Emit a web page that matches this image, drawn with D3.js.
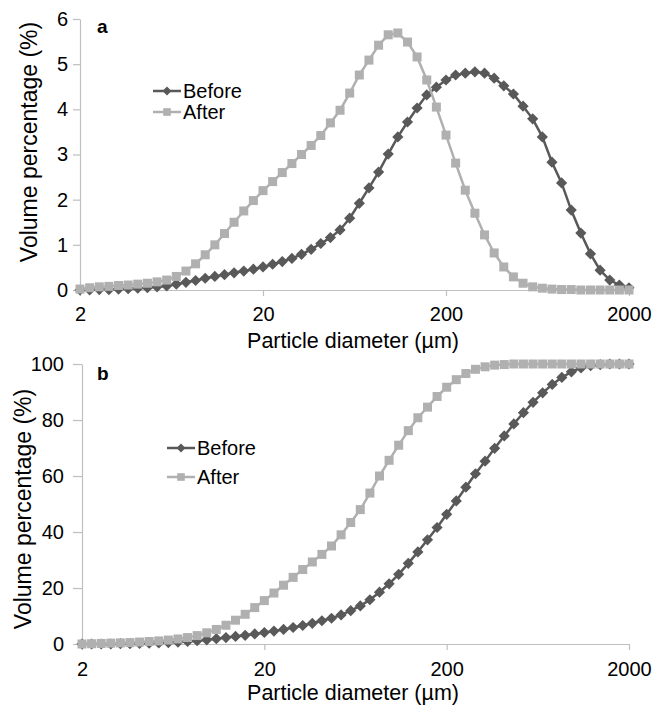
<!DOCTYPE html>
<html><head><meta charset="utf-8">
<script src="https://cdn.jsdelivr.net/npm/d3@7"></script>
<style>
body{margin:0;background:#fff}
text{font-family:"Liberation Sans",Arial,Helvetica,sans-serif;fill:#000}
</style>
</head><body>
<svg id="chart" width="662" height="706"></svg>
<script>
// ---- data ----
const diameters = [2, 2.258, 2.549, 2.877, 3.248, 3.666, 4.138, 4.671, 5.273, 5.953,
  6.720, 7.585, 8.563, 9.666, 10.91, 12.32, 13.90, 15.70, 17.72,
  20, 22.58, 25.49, 28.77, 32.48, 36.66, 41.38, 46.71, 52.73, 59.53,
  67.20, 75.85, 85.63, 96.66, 109.1, 123.2, 139.0, 157.0, 177.2,
  200, 225.8, 254.9, 287.7, 324.8, 366.6, 413.8, 467.1, 527.3, 595.3,
  672.0, 758.5, 856.3, 966.6, 1091, 1232, 1390, 1570, 1772, 2000];

const beforeFreq = [0.00, 0.00, 0.01, 0.01, 0.02, 0.03, 0.04, 0.05, 0.07, 0.09,
  0.13, 0.17, 0.21, 0.26, 0.30, 0.34, 0.38, 0.42, 0.46, 0.51,
  0.57, 0.63, 0.70, 0.79, 0.90, 1.03, 1.16, 1.33, 1.59, 1.92,
  2.26, 2.61, 3.01, 3.39, 3.72, 4.03, 4.32, 4.49, 4.65, 4.76,
  4.80, 4.83, 4.80, 4.69, 4.52, 4.34, 4.07, 3.79, 3.39, 2.83,
  2.37, 1.77, 1.26, 0.80, 0.44, 0.22, 0.11, 0.05];

const afterFreq = [0.02, 0.05, 0.07, 0.08, 0.10, 0.11, 0.13, 0.15, 0.18, 0.22,
  0.30, 0.42, 0.58, 0.78, 1.00, 1.25, 1.50, 1.75, 1.98, 2.20,
  2.40, 2.60, 2.80, 3.00, 3.20, 3.42, 3.70, 3.98, 4.36, 4.76,
  5.09, 5.42, 5.65, 5.69, 5.49, 5.16, 4.65, 4.05, 3.43, 2.81,
  2.21, 1.70, 1.22, 0.82, 0.51, 0.29, 0.15, 0.07, 0.04, 0.02,
  0.01, 0.01, 0.00, 0.00, 0.00, 0.00, 0.00, 0.00];

const beforeCum = [0.0, 0.0, 0.0, 0.0, 0.1, 0.1, 0.2, 0.3, 0.4, 0.5,
  0.7, 0.9, 1.2, 1.5, 1.9, 2.3, 2.7, 3.1, 3.6, 4.1,
  4.6, 5.2, 5.9, 6.6, 7.4, 8.3, 9.2, 10.4, 11.9, 13.6,
  15.8, 18.5, 21.5, 24.9, 28.8, 32.9, 37.2, 41.6, 46.3, 51.1,
  56.0, 60.8, 65.3, 69.9, 74.3, 78.6, 82.6, 86.3, 89.7, 92.7,
  95.2, 97.2, 98.6, 99.4, 99.8, 100, 100, 100];

const afterCum = [0.0, 0.1, 0.2, 0.3, 0.4, 0.5, 0.7, 0.9, 1.1, 1.4,
  1.8, 2.3, 3.0, 4.0, 5.2, 6.7, 8.5, 10.6, 13.0, 15.5,
  18.2, 21.0, 23.8, 26.6, 29.3, 32.0, 35.0, 39.0, 43.4, 48.0,
  53.9, 60.0, 65.6, 71.0, 76.2, 80.8, 84.6, 88.4, 91.7, 94.4,
  96.6, 98.1, 99.0, 99.6, 99.8, 100, 100, 100, 100, 100,
  100, 100, 100, 100, 100, 100, 100, 100];

const seriesNames = ["Before", "After"];
const xTickValues = [2, 20, 200, 2000];
const yTicksA = [0, 1, 2, 3, 4, 5, 6];
const yTicksB = [0, 20, 40, 60, 80, 100];
const xTitle = "Particle diameter (µm)";
const yTitle = "Volume percentage (%)";

// ---- styles ----
const colBefore = "#595959", colAfter = "#b0b0b0", axisCol = "#bfbfbf";
const svg = d3.select("#chart");

function diamond(r){ return `M0,${-r}L${r},0L0,${r}L${-r},0Z`; }

function drawPanel(o) {
  const g = svg.append("g");
  const x = d3.scaleLog().domain([2, 2000]).range(o.xr);
  const y = d3.scaleLinear().domain(o.yd).range(o.yr);

  const ya = g.append("g").attr("transform", `translate(${o.xr[0]},0)`)
    .call(d3.axisLeft(y).tickValues(o.yTicks).tickFormat(d3.format("d"))
      .tickSize(o.yTickSize).tickPadding(o.yTickPad).tickSizeOuter(0));
  const xa = g.append("g").attr("transform", `translate(0,${o.yr[0]})`)
    .call(d3.axisBottom(x).tickValues(xTickValues).tickFormat(d3.format("d"))
      .tickSize(6).tickPadding(o.xTickPad).tickSizeOuter(0));
  [ya, xa].forEach(a => {
    a.select(".domain").attr("stroke", axisCol).attr("stroke-width", 1.2);
    a.selectAll(".tick line").attr("stroke", axisCol).attr("stroke-width", 1.2);
    a.selectAll(".tick text").attr("font-size", 20).attr("fill", "#000")
      .attr("font-family", '"Liberation Sans",Arial,sans-serif');
  });

  const line = d3.line().x((d, i) => x(diameters[i])).y(d => y(d));

  g.append("path").datum(o.before).attr("d", line).attr("fill", "none")
    .attr("stroke", colBefore).attr("stroke-width", 2.5);
  g.append("g").selectAll("path").data(o.before).join("path")
    .attr("transform", (d, i) => `translate(${x(diameters[i])},${y(d)})`)
    .attr("d", diamond(5.6)).attr("fill", colBefore);
  g.append("path").datum(o.after).attr("d", line).attr("fill", "none")
    .attr("stroke", colAfter).attr("stroke-width", 2.5);
  g.append("g").selectAll("rect").data(o.after).join("rect")
    .attr("x", (d, i) => x(diameters[i]) - 4.5).attr("y", d => y(d) - 4.5)
    .attr("width", 9).attr("height", 9).attr("fill", colAfter);

  g.append("text").attr("x", o.label[1]).attr("y", o.label[2])
    .attr("font-size", 19).attr("font-weight", "bold").text(o.label[0]);

  g.append("text").attr("x", 353).attr("y", o.xTitleY).attr("text-anchor", "middle")
    .attr("font-size", 21.5).text(xTitle);
  g.append("text").attr("transform", `translate(${o.yTitleX},${o.yTitleY}) rotate(-90)`)
    .attr("text-anchor", "middle").attr("dy", "0.35em").attr("font-size", 23).text(yTitle);

  const lg = g.append("g");
  seriesNames.forEach((name, k) => {
    const ly = o.leg[1] + k * o.legStep;
    const x0 = o.leg[0];
    const c = k === 0 ? colBefore : colAfter;
    lg.append("line").attr("x1", x0).attr("x2", x0 + 28).attr("y1", ly).attr("y2", ly)
      .attr("stroke", c).attr("stroke-width", 2.5);
    if (k === 0) lg.append("path").attr("transform", `translate(${x0 + 14},${ly})`).attr("d", diamond(4.5)).attr("fill", c);
    else lg.append("rect").attr("x", x0 + 14 - 3.8).attr("y", ly - 3.8).attr("width", 7.6).attr("height", 7.6).attr("fill", c);
    lg.append("text").attr("x", x0 + 30).attr("y", ly).attr("dy", "0.35em").attr("font-size", 20).text(name);
  });
}

drawPanel({
  xr: [80, 629], yr: [290, 19], yd: [0, 6], yTicks: yTicksA,
  yTickSize: 7, yTickPad: 5, xTickPad: 11,
  before: beforeFreq, after: afterFreq,
  label: ["a", 97, 33], xTitleY: 348, yTitleX: 28.5, yTitleY: 142,
  leg: [153, 91], legStep: 21
});
drawPanel({
  xr: [82, 629], yr: [644, 364], yd: [0, 100], yTicks: yTicksB,
  yTickSize: 9, yTickPad: 9, xTickPad: 12,
  before: beforeCum, after: afterCum,
  label: ["b", 97, 380], xTitleY: 700, yTitleX: 22.5, yTitleY: 509,
  leg: [167, 448], legStep: 29
});
</script>
</body></html>
